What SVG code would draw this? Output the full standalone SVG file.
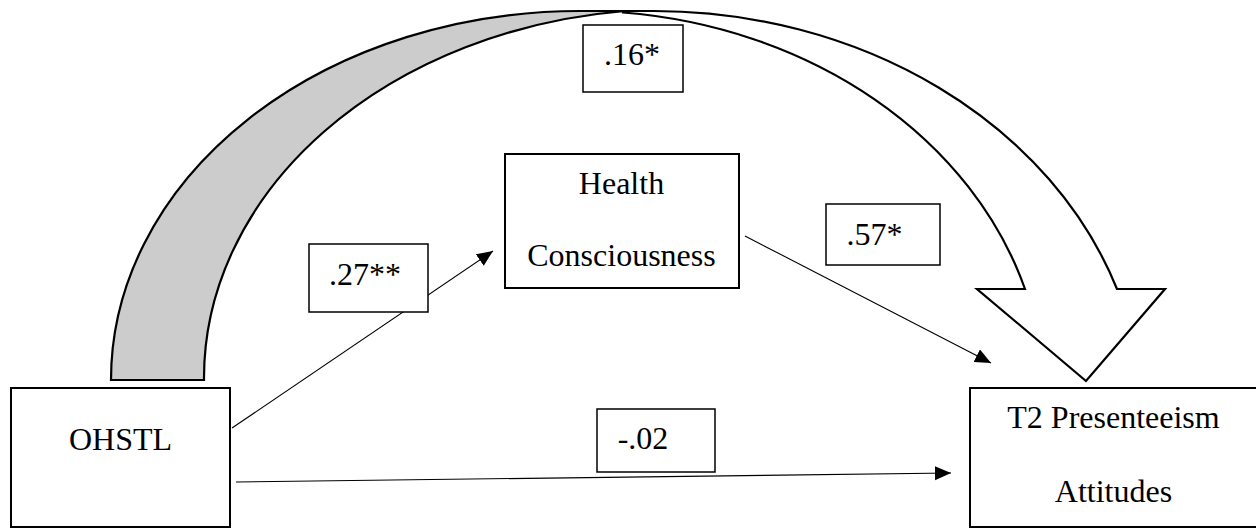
<svg xmlns="http://www.w3.org/2000/svg" width="1256" height="529" viewBox="0 0 1256 529">
  <style>
    .node { fill: #ffffff; stroke: #000000; stroke-width: 2; }
    .label { fill: #ffffff; stroke: #000000; stroke-width: 1.5; }
    .txt { font-family: "Liberation Serif", "Times New Roman", serif; font-size: 32px; fill: #000000; text-anchor: middle; }
    .edge { fill: none; stroke: #000000; stroke-width: 1.1; }
    .band { stroke: #000000; stroke-width: 2.2; stroke-linejoin: miter; }
  </style>
  <defs>
    <marker id="head" markerUnits="userSpaceOnUse" markerWidth="18" markerHeight="16" refX="16" refY="7" orient="auto">
      <path d="M0,0 L16,7 L0,14 Z" fill="#000000"/>
    </marker>
  </defs>

  <!-- total effect: broad curved arrow from OHSTL over to T2 Presenteeism Attitudes -->
  <g id="curved-arrow">
    <path class="band" fill="#ffffff" d="M623,11 L653,11 A489,409 0 0 1 1117,289 L1165,289 L1086,381 L977,289 L1025,289 A465,389 0 0 0 623,12.5 Z"/>
    <path class="band" fill="#cccccc" d="M111,380 A469,369 0 0 1 580,11 L625,11 A470,369 0 0 0 204,380 Z"/>
  </g>

  <!-- path connectors -->
  <g id="connectors">
    <line class="edge" x1="232" y1="428" x2="493" y2="251" marker-end="url(#head)"/>
    <line class="edge" x1="745" y1="236" x2="991" y2="363" marker-end="url(#head)"/>
    <line class="edge" x1="236" y1="482" x2="951" y2="473" marker-end="url(#head)"/>
  </g>

  <!-- variables -->
  <g id="ohstl">
    <rect class="node" x="11" y="388" width="219" height="139"/>
    <text class="txt" x="120.5" y="450">OHSTL</text>
  </g>
  <g id="health-consciousness">
    <rect class="node" x="505" y="154" width="234" height="134"/>
    <text class="txt" x="621.5" y="194">Health</text>
    <text class="txt" x="621.5" y="266">Consciousness</text>
  </g>
  <g id="t2-presenteeism-attitudes">
    <rect class="node" x="970" y="388" width="300" height="139"/>
    <text class="txt" x="1113.5" y="428">T2 Presenteeism</text>
    <text class="txt" x="1113.5" y="502">Attitudes</text>
  </g>

  <!-- path coefficients -->
  <g id="coef-total">
    <rect class="label" x="583" y="25" width="100" height="67"/>
    <text class="txt" x="632" y="65">.16*</text>
  </g>
  <g id="coef-a">
    <rect class="label" x="309" y="244" width="119" height="68"/>
    <text class="txt" x="365" y="285">.27**</text>
  </g>
  <g id="coef-b">
    <rect class="label" x="826" y="204" width="114" height="61"/>
    <text class="txt" x="874.5" y="245">.57*</text>
  </g>
  <g id="coef-direct">
    <rect class="label" x="597" y="409" width="118" height="63"/>
    <text class="txt" x="643" y="449">-.02</text>
  </g>
</svg>
